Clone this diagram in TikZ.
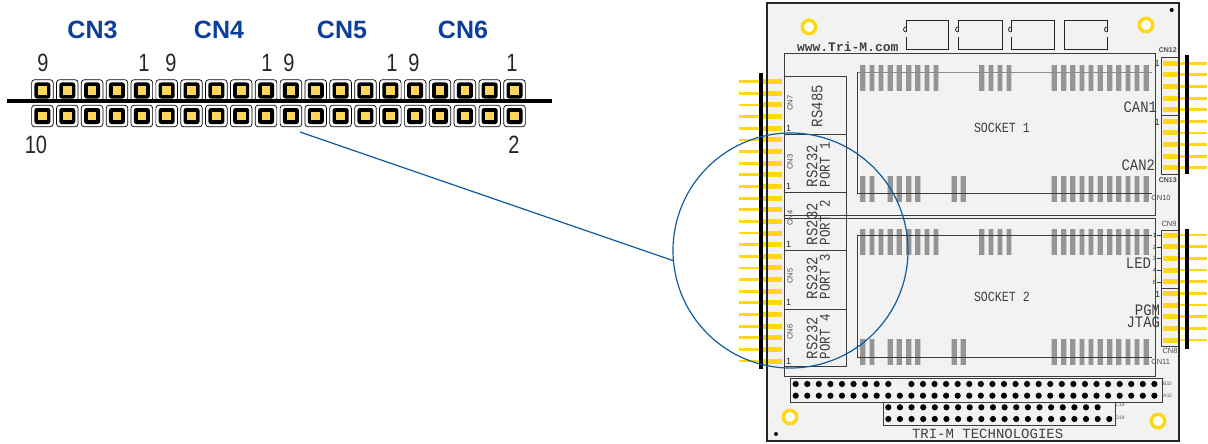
\documentclass[tikz,border=0pt]{standalone}
\usepackage{fontspec}
\setmainfont{Liberation Sans}
\setmonofont{Liberation Mono}
\newfontfamily\vecf[FakeStretch=.87]{Liberation Mono}
\newfontfamily\sockf[FakeStretch=.83]{Liberation Mono}
\definecolor{cnblue}{HTML}{0B3F9B}
\definecolor{pingold}{HTML}{FFD712}
\definecolor{padcore}{HTML}{FFD65C}
\definecolor{board}{HTML}{F2F2F2}
\definecolor{padgrey}{HTML}{959595}
\definecolor{padhalo}{HTML}{CDCDCD}
\definecolor{outl}{HTML}{3C3C3C}
\definecolor{magblue}{HTML}{0F5C9E}
\tikzset{
 every node/.style={inner sep=0pt,outer sep=0pt},
 cnhead/.style={font=\fontsize{25}{25}\selectfont\bfseries,text=cnblue},
 pinnum/.style={font=\fontsize{25}{25}\selectfont,text=black!85,xscale=.8},
 boardline/.style={draw=outl,line width=.9pt},
 thinpin/.style={draw=pingold,line width=2.8pt},
 thickpin/.style={draw=pingold,line width=5pt},
 pinbar/.style={draw=black,line width=4pt},
 pad/.style={draw=padgrey,line width=4.6pt},
 padedge/.style={draw=padhalo,line width=6pt},
 holedot/.style={fill=black},
 vec/.style={font=\vecf\fontsize{16}{16}\selectfont,text=black!75},
 tiny lab/.style={font=\fontsize{7.5}{7.5}\selectfont,text=black!70},
 tiny one/.style={font=\fontsize{9}{9}\selectfont,text=black!85},
 ring/.style={draw=pingold,line width=3.4pt,fill=white},
}
\begin{document}
\begin{tikzpicture}[x=1pt,y=-1pt]
\useasboundingbox (0,0) rectangle (1208,444);
% ---- left enlarged header ----
\foreach \i in {0,...,19}{
  \pgfmathsetmacro{\xx}{42.4+24.85*\i}
  \foreach \yy in {90.5,116}{
    \draw[black,line width=.7pt,fill=white,rounded corners=3pt] (\xx-10.8,\yy-10.8) rectangle (\xx+10.8,\yy+10.8);
    \fill[black,rounded corners=2.5pt] (\xx-8,\yy-8) rectangle (\xx+8,\yy+8);
    \fill[padcore] (\xx-4.3,\yy-4.3) rectangle (\xx+4.3,\yy+4.3);
  }
}
\draw[black,line width=4pt] (7,101) -- (552,101);
\node[cnhead] (cnA) at (92.5,30) {CN3};
\node[cnhead] (cnB) at (219,30) {CN4};
\node[cnhead] (cnC) at (342,30) {CN5};
\node[cnhead] (cnD) at (463,30) {CN6};
\node[pinnum] (n1) at (43,63) {9};
\node[pinnum] (n2) at (144,63) {1};
\node[pinnum] (n3) at (171,63) {9};
\node[pinnum] (n4) at (267,63) {1};
\node[pinnum] (n5) at (289,63) {9};
\node[pinnum] (n6) at (392,63) {1};
\node[pinnum] (n7) at (414,63) {9};
\node[pinnum] (n8) at (512,63) {1};
\node[pinnum] (n9) at (36,145) {10};
\node[pinnum] (n10) at (514,145) {2};
\coordinate (pinref) at (300,132);
% ---- board ----
\fill[board] (767,3) rectangle (1179,441);
\draw[boardline] (784,53) rectangle (1155,215);
\draw[boardline] (784,218) rectangle (1155,376);
% chips
\foreach \l/\r/\side in {906/948/0,958/1002/0,1011/1054/0,1064/1107/1}{
  \draw[black!85,line width=.9pt] (\l,20) rectangle (\r,49);
  \ifnum\side=0
    \fill[board] (\l-.8,32) rectangle (\l+1,37);
    \draw[black!85,line width=.8pt] (\l,32) arc (-90:90:-2.5) ;
  \else
    \fill[board] (\r-1,32) rectangle (\r+.8,37);
    \draw[black!85,line width=.8pt] (\r,32) arc (90:270:2.5);
  \fi
}
% left port blocks
\foreach \a/\b in {76/134,134/192.5,192.5/250.5,250.5/309,309/366.5}{
  \draw[boardline] (784,\a) rectangle (846,\b);
}
% sockets
\foreach \t/\bo in {65/176,229/339}{
  \pgfmathsetmacro{\te}{\t+26}
  \pgfmathsetmacro{\be}{\bo+26}
  \foreach \xx in {862.7,871.8,881,890.2,899.3,908.5,917.7,926.8,936,981.7,990.8,1000,1008.9}{
    \draw[padedge] (\xx,\t) -- (\xx,\te);
    \draw[pad] (\xx,\t) -- (\xx,\te);
  }
  \foreach \xx in {862.7,871.8,890.2,899.3,908.5,917.7,954.3,963.4}{
    \draw[padedge] (\xx,\bo) -- (\xx,\be);
    \draw[pad] (\xx,\bo) -- (\xx,\be);
  }
  \foreach \i in {0,...,10}{
    \pgfmathsetmacro{\xx}{1054.3+9.2*\i}
    \draw[padedge] (\xx,\t) -- (\xx,\te);
    \draw[pad] (\xx,\t) -- (\xx,\te);
    \draw[padedge] (\xx,\bo) -- (\xx,\be);
    \draw[pad] (\xx,\bo) -- (\xx,\be);
  }
}
\draw[black!45,line width=.9pt] (857,72) -- (1152,72);
\draw[outl,line width=.9pt] (857,72) -- (857,193.5) -- (1152,193.5);
\draw[outl,line width=.9pt] (1152,235) -- (857,235) -- (857,357) -- (1152,357);
% right connector blocks
\foreach \a/\b in {57/115,115/174,230/288,288/346}{
  \draw[boardline] (1161,\a) rectangle (1179,\b);
}
% bottom bus connectors
\draw[boardline] (790,378) rectangle (1162,402);
\draw[boardline] (883,402) rectangle (1115,425);
\foreach \i in {0,...,31}{
  \pgfmathsetmacro{\xx}{795.7+11.57*\i}
  \ifnum\i=9\else\fill[holedot] (\xx,384) circle (3.1);\fi
  \fill[holedot] (\xx,395.7) circle (3.1);
}
\foreach \i in {0,...,19}{
  \pgfmathsetmacro{\xx}{888.3+11.63*\i}
  \ifnum\i=19\else\fill[holedot] (\xx,407.3) circle (3.1);\fi
  \fill[holedot] (\xx,419) circle (3.1);
}
% mounting holes
\foreach \xx/\yy in {809/27,1146/25,790/417,1158/421}{
  \draw[ring] (\xx,\yy) circle (6.7);
}
\fill[black] (1171.7,10) circle (2);
\fill[black] (776,434) circle (2);
% pins
\foreach \i in {0,...,24}{
  \pgfmathsetmacro{\yy}{81.7+11.64*\i}
  \draw[thinpin] (739,\yy) -- (764,\yy);
  \draw[thickpin] (763,\yy) -- (782,\yy);
}
\draw[pinbar] (761.3,73) -- (761.3,369);
\foreach \i in {0,...,9}{
  \pgfmathsetmacro{\yy}{63.3+11.6*\i}
  \pgfmathsetmacro{\zz}{235+11.67*\i}
  \draw[thickpin] (1163,\yy) -- (1179,\yy);
  \draw[thinpin] (1179,\yy) -- (1207,\yy);
  \draw[thickpin] (1163,\zz) -- (1179,\zz);
  \draw[thinpin] (1179,\zz) -- (1207,\zz);
}
\draw[pinbar] (1186.5,55) -- (1186.5,174);
\draw[pinbar] (1186.5,229) -- (1186.5,349);
% board outline above the pins
\draw[black!85,line width=1.8pt] (767,3) rectangle (1179,441);
% board texts
\node[vec,font=\ttfamily\bfseries\fontsize{13}{13}\selectfont,anchor=west] (web) at (797,46.5) {www.Tri-M.com};
\node[vec,font=\ttfamily\fontsize{14}{14}\selectfont,anchor=west] (maker) at (912,433.5) {TRI-M TECHNOLOGIES};
\node[vec,font=\sockf\fontsize{14}{14}\selectfont,anchor=west] (s1) at (974,127.5) {SOCKET 1};
\node[vec,font=\sockf\fontsize{14}{14}\selectfont,anchor=west] (s2) at (974,297) {SOCKET 2};
\node[vec,anchor=east] (can1) at (1157,107) {CAN1};
\node[vec,anchor=east] (can2) at (1155,165) {CAN2};
\node[vec,anchor=east] (led) at (1151,263) {LED};
\node[vec,anchor=east] (pgm) at (1160,310) {PGM};
\node[vec,anchor=east] (jtag) at (1160,322) {JTAG};
\node[vec,rotate=90,anchor=west] (rs) at (817,127) {RS485};
\foreach \nm/\bo/\p in {p1/187/1,p2/245/2,p3/299/3,p4/359/4}{
  \node[vec,rotate=90,anchor=west] (rs\nm) at (812,\bo) {RS232};
  \node[vec,rotate=90,anchor=west,font=\sockf\fontsize{15}{15}\selectfont] (po\nm) at (825,\bo) {PORT \p};
}
\foreach \nm/\yy in {7/103,3/162,4/218,5/276,6/332}{
  \node[tiny lab,rotate=90] (c\nm) at (790,\yy) {CN\nm};
}
\foreach \yy in {128,186.7,244,302,361}{
  \node[tiny one] at (788.7,\yy) {1};
}
\node[tiny one] (r1) at (1157,63) {1};
\node[tiny one] (r2) at (1157,122) {1};
\node[tiny one] (r3) at (1157.5,294) {1};
\node[tiny lab,font=\fontsize{7}{7}\selectfont\bfseries] (c12) at (1167.7,50) {CN12};
\node[tiny lab,font=\fontsize{7}{7}\selectfont\bfseries] (c13) at (1167.7,180) {CN13};
\node[tiny lab] (c10) at (1161,198) {CN10};
\node[tiny lab] (c9) at (1169,224) {CN9};
\node[tiny lab] (c8) at (1170,351) {CN8};
\node[tiny lab] (c11) at (1160.7,362) {CN11};
\foreach \n/\yy in {1/235,2/247,3/258.7,4/270.3,5/282}{
  \node[font=\fontsize{6}{6}\selectfont,text=black!80] at (1154.5,\yy) {\n};
  \draw[black!80,line width=.6pt] (1156.5,\yy) -- (1161,\yy);
}
\node[font=\fontsize{5}{5}\selectfont,text=black!65] (b32) at (1167.5,384) {B32};
\node[font=\fontsize{5}{5}\selectfont,text=black!65] (a32) at (1167.5,396) {A32};
\node[font=\fontsize{5}{5}\selectfont,text=black!65] (c19) at (1120,405) {C19};
\node[font=\fontsize{5}{5}\selectfont,text=black!65] (d19) at (1120,418) {D19};
% magnifier
\node[circle,draw=magblue,line width=1.2pt,minimum size=235pt] (mag) at (790.5,250.5) {};
\draw[magblue,line width=1.2pt] (pinref) -- (mag.185.7);
\end{tikzpicture}
\end{document}
